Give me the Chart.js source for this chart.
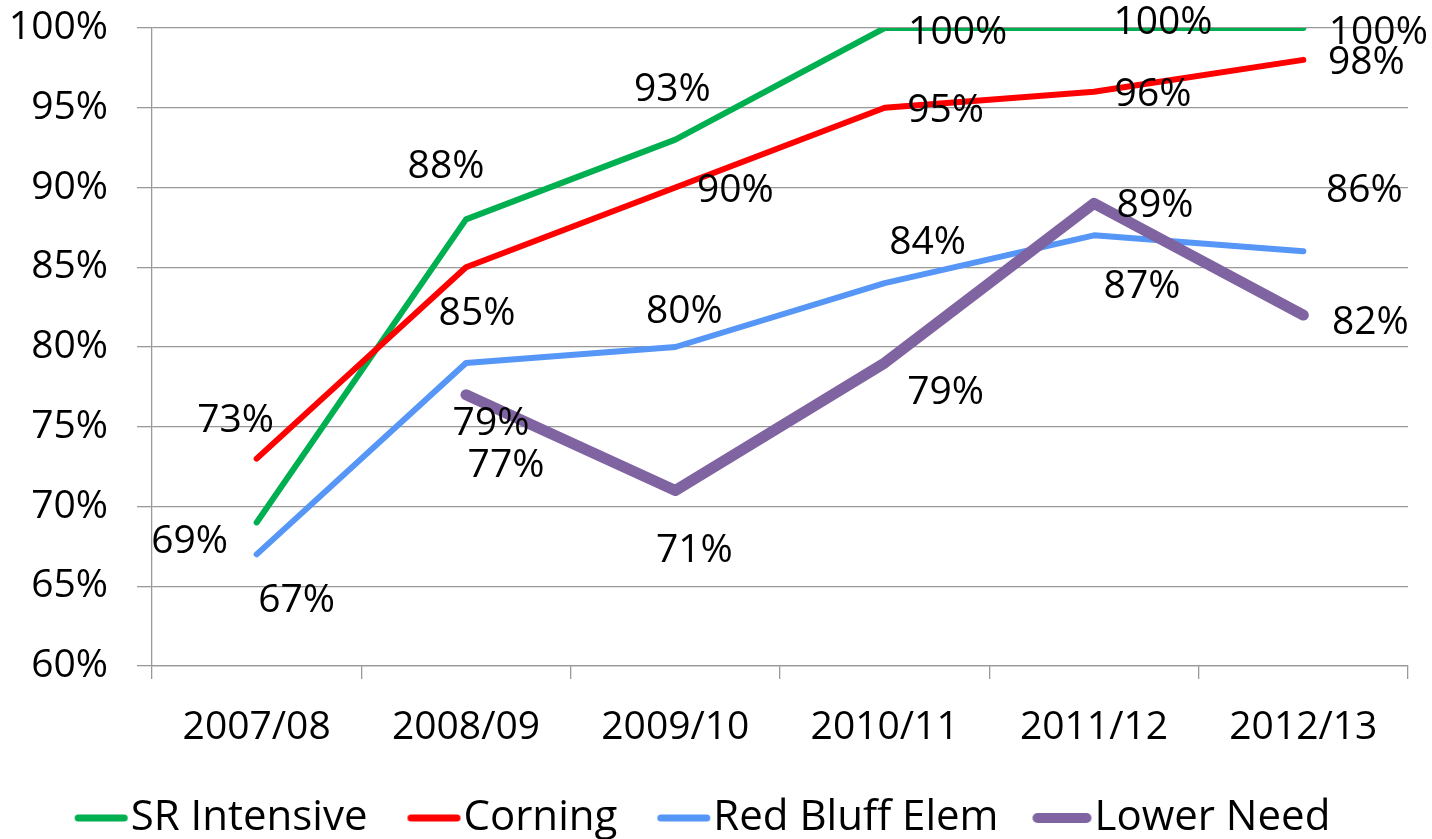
<!DOCTYPE html>
<html>
<head>
<meta charset="utf-8">
<script src="https://cdn.jsdelivr.net/npm/chart.js@4/dist/chart.umd.min.js"></script>
<style>
  html, body { margin: 0; padding: 0; background: #fff; }
  #wrap { width: 1432px; height: 839px; position: relative; }
</style>
</head>
<body>
<div id="wrap"><canvas id="c" width="1432" height="839"></canvas></div>
<script>
// ---- data ----
const categories = ['2007/08', '2008/09', '2009/10', '2010/11', '2011/12', '2012/13'];
const seriesNames = ['SR Intensive', 'Corning', 'Red Bluff Elem', 'Lower Need'];
const srIntensive = [69, 88, 93, 100, 100, 100];
const corning = [73, 85, 90, 95, 96, 98];
const redBluffElem = [67, 79, 80, 84, 87, 86];
const lowerNeed = [null, 77, 71, 79, 89, 82];
const yMin = 60, yMax = 100, yStep = 5;

// ---- styles ----
const colors = ['#00B050', '#FF0000', '#5596F7', '#8064A2'];
const widths = [6, 6, 6, 11];
const legendLineWidths = [7, 7, 7, 10];
const legendLineLengths = [53, 53, 53, 59];
// data-label offsets (pixels from the point) per series
const labelOffsets = [
  [[-67, 19], [-20, -53], [-3, -50], [73, 5], [69, -5], [75, 5]],
  [[-21, -38], [11, 47], [60, 3], [61, 3], [59, 3], [63, 3]],
  [[40, 47], [25, 61], [9, -35], [43, -40], [48, 52], [61, -60]],
  [null, [40, 71], [19, 60], [61, 30], [61, 2], [67, 8]]
];
const FONT = "'Open Sans', sans-serif";
const numFontSize = 39;
const legendFontSize = 42;
const LEG_BOX = 32, LEG_PAD = 43, LEG_IMG_W = 80;

function legendImage(i) {
  const c = document.createElement('canvas');
  c.width = LEG_IMG_W; c.height = 30;
  const g = c.getContext('2d');
  g.strokeStyle = colors[i];
  g.lineWidth = legendLineWidths[i];
  g.lineCap = 'round';
  const lw = legendLineWidths[i];
  const end = LEG_IMG_W / 2 + LEG_BOX / 2 + 18; // image x where line ends
  const start = end - legendLineLengths[i];
  g.beginPath();
  g.moveTo(start + lw / 2, 15);
  g.lineTo(end - lw / 2, 15);
  g.stroke();
  return c;
}
const legendImgs = seriesNames.map((_, i) => legendImage(i));

const seriesData = [srIntensive, corning, redBluffElem, lowerNeed];

const labelPlugin = {
  id: 'pctLabels',
  afterDatasetsDraw(chart) {
    const ctx = chart.ctx;
    ctx.save();
    ctx.font = numFontSize + 'px ' + FONT;
    ctx.fillStyle = '#000';
    ctx.textAlign = 'center';
    ctx.textBaseline = 'middle';
    chart.data.datasets.forEach((ds, di) => {
      const meta = chart.getDatasetMeta(di);
      meta.data.forEach((pt, i) => {
        const v = ds.data[i];
        if (v === null || v === undefined) return;
        const off = labelOffsets[di][i] || [0, 0];
        ctx.fillText(v + '%', pt.x + off[0], pt.y + off[1]);
      });
    });
    ctx.restore();
  }
};

const chart = new Chart(document.getElementById('c'), {
  type: 'line',
  data: {
    labels: categories,
    datasets: seriesNames.map((name, i) => ({
      label: name,
      data: seriesData[i],
      borderColor: colors[i],
      backgroundColor: colors[i],
      borderWidth: widths[i],
      borderCapStyle: 'round',
      borderJoinStyle: 'round',
      pointRadius: 0,
      pointHoverRadius: 0,
      tension: 0,
      fill: false,
      order: 4 - i
    }))
  },
  options: {
    responsive: false,
    animation: false,
    devicePixelRatio: 1,
    layout: { padding: { top: 28, bottom: -10, left: 0, right: 24 } },
    plugins: {
      tooltip: { enabled: false },
      legend: {
        position: 'bottom',
        align: 'center',
        labels: {
          usePointStyle: true,
          pointStyleWidth: LEG_BOX,
          padding: LEG_PAD,
          color: '#000',
          font: { family: FONT, size: legendFontSize },
          sort: (a, b) => a.datasetIndex - b.datasetIndex,
          generateLabels(chart) {
            const items = Chart.defaults.plugins.legend.labels.generateLabels(chart);
            items.forEach(it => { it.pointStyle = legendImgs[it.datasetIndex]; });
            return items;
          }
        }
      }
    },
    scales: {
      x: {
        type: 'category',
        offset: true,
        grid: { display: true, offset: true, drawOnChartArea: false, color: '#999', lineWidth: 1.3, tickLength: 13 },
        border: { display: true, color: '#999', width: 1.3 },
        ticks: { color: '#000', font: { family: FONT, size: numFontSize }, padding: 25, maxRotation: 0, autoSkip: false },
        afterFit(scale) { scale.height = 88; }
      },
      y: {
        min: yMin, max: yMax,
        grid: { color: '#999', lineWidth: 1.3, tickLength: 15 },
        border: { display: true, color: '#999', width: 1.3 },
        ticks: {
          stepSize: yStep,
          color: '#000',
          padding: 29,
          font: { family: FONT, size: numFontSize },
          callback: v => v + '%'
        },
        afterFit(scale) { scale.width = 152; scale.paddingTop = 0; scale.paddingBottom = 0; }
      }
    }
  },
  plugins: [labelPlugin]
});
</script>
</body>
</html>
